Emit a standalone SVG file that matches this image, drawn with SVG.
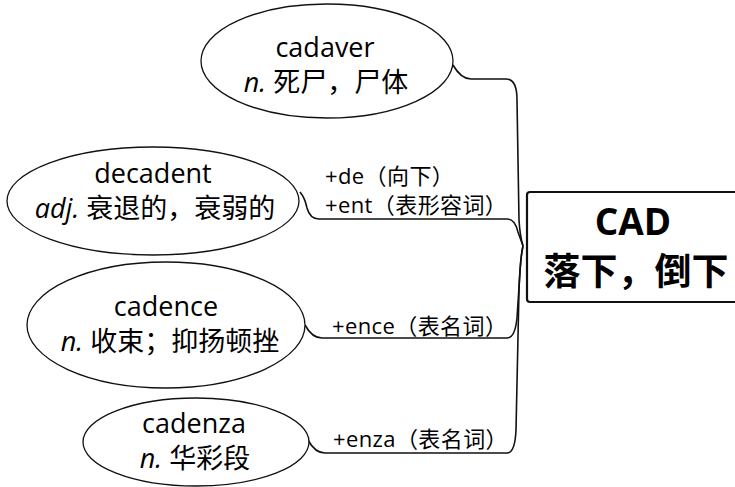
<svg xmlns="http://www.w3.org/2000/svg" width="735" height="487" viewBox="0 0 735 487">
<style>
.node ellipse{fill:#fff;stroke:#111;stroke-width:1.3}
.t{font-family:"Open Sans","Noto Sans CJK SC",sans-serif;font-size:27px;fill:#000;text-anchor:middle}
.i{font-style:italic}
.lbl{font-family:"Open Sans","Noto Sans CJK SC",sans-serif;font-size:22px;letter-spacing:0.4px;fill:#000}
.root{font-family:"Open Sans","Noto Sans CJK SC",sans-serif;font-size:37px;font-weight:bold;fill:#000;text-anchor:middle}
#connectors path{fill:none;stroke:#111;stroke-width:1.6}
</style>
<rect width="735" height="487" fill="#fff"/>
<g id="connectors">
<path d="M453,65 Q461,79 471,79 L506,79 Q517,79 517,100 L519,220 Q520,236 523,246"/>
<path d="M300,192 Q305,198 307,208 Q310,219 319,219 L507,219 Q515,219 518,232 L523,246"/>
<path d="M305,325 Q312,338 322,338 L507,338 Q515,338 517,318 L520,272 Q521,254 523,246"/>
<path d="M308,440 Q315,453 325,453 L507,453 Q515,453 516,430 L519,290 Q520,260 523,246"/>
</g>
<g id="labels">
<text class="lbl" x="325" y="184">+de（向下）</text>
<text class="lbl" x="325" y="213">+ent（表形容词）</text>
<text class="lbl" x="332" y="334">+ence（表名词）</text>
<text class="lbl" x="333" y="447">+enza（表名词）</text>
</g>
<g id="root" class="node">
<rect x="527" y="192" width="215" height="110" rx="3" fill="#fff" stroke="#111" stroke-width="2.2"/>
<text class="root" x="633" y="235">CAD</text>
<text class="root" x="636" y="285">落下，倒下</text>
</g>
<g id="cadaver" class="node">
<ellipse cx="327" cy="61" rx="126" ry="57"/>
<text class="t" x="325" y="57">cadaver</text>
<text class="t" x="326" y="92"><tspan class="i">n.</tspan> 死尸，尸体</text>
</g>
<g id="decadent" class="node">
<ellipse cx="153" cy="201" rx="146" ry="54"/>
<text class="t" x="153" y="183">decadent</text>
<text class="t" x="155" y="218"><tspan class="i">adj.</tspan> 衰退的，衰弱的</text>
</g>
<g id="cadence" class="node">
<ellipse cx="166" cy="325" rx="139" ry="63"/>
<text class="t" x="166" y="316">cadence</text>
<text class="t" x="170" y="351"><tspan class="i">n.</tspan> 收束；抑扬顿挫</text>
</g>
<g id="cadenza" class="node">
<ellipse cx="196" cy="442" rx="113" ry="44"/>
<text class="t" x="194" y="433">cadenza</text>
<text class="t" x="195" y="468"><tspan class="i">n.</tspan> 华彩段</text>
</g>
</svg>
